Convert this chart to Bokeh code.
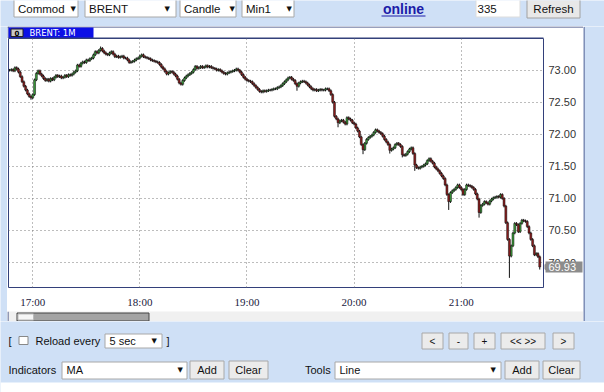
import math
import pandas as pd
from bokeh.plotting import figure
from bokeh.layouts import row, column
from bokeh.models import Range1d, FixedTicker, DatetimeTickFormatter
from bokeh.core.properties import value
from bokeh.embed import file_html
from bokeh.resources import INLINE

# ---------------- data ----------------
SYMBOL = "BRENT"
TIMEFRAME = "1M"
DATE = "2013-06-03"
FIRST_BAR = "16:47"
FIRST_OPEN = 7300  # cents
closes_cents = [
    7300, 7301, 7299, 7304, 7302, 7297, 7290, 7282, 7275, 7269,
    7263, 7259, 7257, 7262, 7285, 7295, 7299, 7294, 7291, 7287,
    7284, 7286, 7283, 7287, 7285, 7289, 7292, 7290, 7291, 7288,
    7289, 7292, 7290, 7293, 7292, 7294, 7297, 7299, 7308, 7306,
    7311, 7313, 7312, 7316, 7315, 7318, 7319, 7324, 7329, 7327,
    7331, 7334, 7330, 7327, 7325, 7324, 7327, 7329, 7325, 7321,
    7322, 7320, 7321, 7322, 7319, 7319, 7316, 7312, 7313, 7314,
    7316, 7318, 7319, 7322, 7324, 7321, 7320, 7319, 7318, 7316,
    7315, 7314, 7313, 7312, 7309, 7305, 7302, 7298, 7294, 7296,
    7298, 7297, 7294, 7291, 7286, 7280, 7278, 7284, 7288, 7291,
    7293, 7295, 7297, 7301, 7306, 7303, 7304, 7306, 7304, 7305,
    7307, 7305, 7306, 7304, 7303, 7302, 7300, 7301, 7299, 7297,
    7295, 7294, 7296, 7297, 7298, 7299, 7300, 7302, 7300, 7297,
    7293, 7289, 7286, 7284, 7283, 7282, 7279, 7276, 7273, 7270,
    7267, 7266, 7268, 7267, 7268, 7269, 7269, 7270, 7271, 7271,
    7273, 7274, 7276, 7279, 7282, 7285, 7288, 7289, 7286, 7284,
    7279, 7275, 7280, 7282, 7283, 7282, 7280, 7277, 7274, 7271,
    7269, 7270, 7268, 7269, 7270, 7269, 7269, 7271, 7271, 7268,
    7262, 7250, 7228, 7224, 7218, 7221, 7222, 7219, 7216, 7226,
    7224, 7222, 7218, 7216, 7210, 7205, 7196, 7184, 7176, 7186,
    7192, 7195, 7197, 7199, 7203, 7207, 7205, 7203, 7201, 7197,
    7192, 7188, 7184, 7175, 7177, 7179, 7184, 7186, 7184, 7181,
    7168, 7167, 7169, 7173, 7177, 7179, 7170, 7152, 7148, 7147,
    7149, 7150, 7152, 7154, 7159, 7162, 7158, 7155, 7149, 7146,
    7143, 7139, 7135, 7131, 7121, 7106, 7095, 7109, 7112, 7114,
    7117, 7121, 7117, 7114, 7106, 7114, 7121, 7120, 7119, 7117,
    7114, 7107, 7099, 7078, 7089, 7091, 7095, 7093, 7091, 7096,
    7099, 7101, 7102, 7103, 7102, 7106, 7100, 7088, 7062, 7036,
    7010, 7026, 7046, 7061, 7059, 7048, 7061, 7066, 7065, 7064,
    7056, 7046, 7036, 7026, 7012, 7014, 7009, 6993,
]
low_overrides = {12: 7254, 14: 7260, 161: 7268, 184: 7211, 198: 7169, 213: 7170,
                 220: 7164, 227: 7143, 246: 7082, 263: 7070, 280: 6976, 297: 6989}
high_overrides = {38: 7310, 51: 7337}
WICK = 2  # cents beyond body when not read separately

price_ticks = [70.0, 70.5, 71.0, 71.5, 72.0, 72.5, 73.0]
hour_ticks = ["17:00", "18:00", "19:00", "20:00", "21:00"]
view_start, view_end = "16:46:24", "21:46:06"
price_low, price_high = 69.61, 73.495

# ---------------- build OHLC ----------------
opens_c = [FIRST_OPEN] + closes_cents[:-1]
highs_c, lows_c = [], []
for i, (o, c) in enumerate(zip(opens_c, closes_cents)):
    highs_c.append(high_overrides.get(i, max(o, c) + WICK))
    lows_c.append(low_overrides.get(i, min(o, c) - WICK))
times = pd.date_range(f"{DATE} {FIRST_BAR}", periods=len(closes_cents), freq="min")
df = pd.DataFrame({
    "t": times,
    "open": [v / 100 for v in opens_c],
    "close": [v / 100 for v in closes_cents],
    "high": [v / 100 for v in highs_c],
    "low": [v / 100 for v in lows_c],
})
df["top"] = df[["open", "close"]].max(axis=1)
df["bottom"] = df[["open", "close"]].min(axis=1)
up = df[df.close > df.open]
down = df[df.close <= df.open]

BG = "#cfe0f6"
NAVY = "#33407a"
GREEN = "#3a9a3a"
RED = "#8a1c1c"


def canvas(w, h, x0, x1, y0, y1, bg):
    f = figure(width=w, height=h, x_range=Range1d(x0, x1), y_range=Range1d(y1, y0),
               output_backend="svg", toolbar_location=None, x_axis_location=None,
               y_axis_location=None, min_border=0, outline_line_color=None,
               background_fill_color=bg, border_fill_color=bg)
    f.grid.visible = False
    return f


def box(f, l, r, t, b, fill, line="#a8a8a8"):
    f.quad(left=[l], right=[r], top=[t], bottom=[b], fill_color=fill, line_color=line, line_width=1)


def txt(f, x, y, s, size="11px", color="#111111", align="left", font="Liberation Sans", style="normal"):
    f.text(x=[x], y=[y], text=[s], text_font=value(font), text_font_size=size, text_color=color,
           text_align=align, text_baseline="middle", text_font_style=style)


def hline(f, x0, x1, y, color=NAVY, w=1):
    f.segment(x0=[x0], y0=[y], x1=[x1], y1=[y], line_color=color, line_width=w)


def vline(f, x, y0, y1, color=NAVY, w=1):
    f.segment(x0=[x], y0=[y0], x1=[x], y1=[y1], line_color=color, line_width=w)


# ---------------- top controls ----------------
top = canvas(604, 26, 0, 604, 0, 26, BG)
for l, r, label, ax in [(13.5, 77.5, "Commod", 70), (84.5, 175.5, "BRENT", 164),
                        (179.5, 235.5, "Candle", 229), (241.5, 293.5, "Min1", 286)]:
    box(top, l, r, -1, 16.5, "white")
    txt(top, l + 4, 8, label, size="11.5px")
    txt(top, ax, 8, "▼", size="7px", font="DejaVu Sans")
txt(top, 403, 8, "online", size="14px", color="#1c1ca8", align="center", style="bold")
hline(top, 381, 425, 15.5, color="#1c1ca8")
box(top, 475.5, 519.5, -1, 16.5, "white", line="#dddddd")
txt(top, 477, 8, "335", size="11.5px")
box(top, 526.5, 579.5, -1, 17.5, "#e8e8e8", line="#a0a0a0")
txt(top, 553, 8, "Refresh", size="11.5px", align="center")

# ---------------- panel pieces ----------------
left = canvas(7, 295, 0, 7, 26, 321, BG)
right = canvas(21, 295, 583, 604, 26, 321, BG)
vline(right, 583.5, 26.5, 321)

tab = canvas(576, 12, 7, 583, 26, 38, "white")
hline(tab, 7, 583, 26.5)
vline(tab, 7.5, 26, 38)
box(tab, 8, 93, 27, 37.5, "#0c10e6", line=None)
box(tab, 10.5, 22.5, 28.5, 36, "#c8c8c8", line="#222222")
txt(tab, 14, 32.3, "0", size="7px", color="black", font="DejaVu Sans", style="bold")
txt(tab, 29, 32.3, f"{SYMBOL}: {TIMEFRAME}", size="8.5px", color="white", font="DejaVu Sans")
hline(tab, 8, 543, 37.5)

# ---------------- chart ----------------
x_start = pd.Timestamp(f"{DATE} {view_start}")
x_end = pd.Timestamp(f"{DATE} {view_end}")
y_rng = Range1d(price_low, price_high)
p = figure(width=537, height=272, x_axis_type="datetime",
           x_range=Range1d(x_start, x_end), y_range=y_rng,
           y_axis_location=None, output_backend="svg", toolbar_location=None,
           min_border_left=1, min_border_right=1, min_border_top=0, min_border_bottom=13,
           background_fill_color="white", border_fill_color="white",
           outline_line_color=NAVY, outline_line_width=1)

hour_ms = [pd.Timestamp(f"{DATE} {h}").value // 10**6 for h in hour_ticks]
fmt = "%H:%M"
p.xaxis.ticker = FixedTicker(ticks=hour_ms)
p.xaxis.formatter = DatetimeTickFormatter(minutes=fmt, hourmin=fmt, hours=fmt, days=fmt,
                                          minsec=fmt, seconds=fmt)
p.xgrid.ticker = FixedTicker(ticks=hour_ms)
p.ygrid.ticker = FixedTicker(ticks=price_ticks)
ax = p.xaxis[0]
ax.axis_line_color = None
ax.major_tick_line_color = None
ax.minor_tick_line_color = None
ax.major_label_text_font = "Liberation Serif"
ax.major_label_text_font_size = "11px"
ax.major_label_text_color = "#1a1a40"
ax.major_label_standoff = 2
p.grid.grid_line_dash = "1 3"
p.grid.grid_line_color = "#7a7a7a"

p.segment(x0="t", y0="low", x1="t", y1="high", source=df, line_color="#111111", line_width=1)
w = 66000
p.vbar(x="t", width=w, top="top", bottom="bottom", source=up, fill_color=GREEN,
       line_color="#111111", line_width=0.5)
p.vbar(x="t", width=w, top="top", bottom="bottom", source=down, fill_color=RED,
       line_color="#111111", line_width=0.5)

# ---------------- price scale (shares the chart's y scale) ----------------
scale = figure(width=39, height=272, x_range=Range1d(544, 583), y_range=y_rng,
               output_backend="svg", toolbar_location=None, x_axis_location=None,
               y_axis_location=None, min_border_left=0, min_border_right=0,
               min_border_top=0, min_border_bottom=13, outline_line_color=None,
               background_fill_color="white", border_fill_color="white")
scale.grid.visible = False
scale.text(x=[548] * len(price_ticks), y=price_ticks, text=[f"{v:.2f}" for v in price_ticks],
           text_font=value("Liberation Sans"), text_font_size="11px", text_color="#333333",
           text_baseline="middle", text_align="left")
last = df.close.iloc[-1]
scale.rect(x=[563.5], y=[last], width=[37], height=[11], height_units="screen",
           fill_color="#8c8c8c", line_color=None)
scale.scatter(x=[545], y=[last], marker="triangle", size=9, angle=math.pi / 2,
              fill_color="#8c8c8c", line_color=None)
scale.text(x=[548], y=[last], text=[f"{last:.2f}"], text_font=value("Liberation Sans"),
           text_font_size="11px", text_color="white", text_baseline="middle", text_align="left")

# ---------------- scrollbar strip ----------------
scroll = canvas(576, 11, 7, 583, 310, 321, "#f0f0f0")
vline(scroll, 7.5, 310, 321)
hline(scroll, 7, 583, 320.5)
box(scroll, 16.5, 148.5, 311.5, 319.5, "#a4a4a4", line="#444444")
box(scroll, 17.5, 33, 312.5, 318.5, "#f6f6f6", line="#bbbbbb")

# ---------------- bottom controls ----------------
bottom = canvas(604, 71, 0, 604, 321, 392, BG)
box(bottom, 0, 604, 382, 392, "white", line=None)
txt(bottom, 8, 340, "[")
box(bottom, 18.5, 27.5, 336, 344, "white", line="#888888")
txt(bottom, 35, 340, "Reload every")
box(bottom, 104.5, 161.5, 333.5, 347.5, "white")
txt(bottom, 109, 340, "5 sec")
txt(bottom, 151, 340, "▼", size="7px", font="DejaVu Sans")
txt(bottom, 166, 340, "]")
for l, r, label in [(421.5, 442.5, "<"), (448.5, 467.5, "-"), (473.5, 494.5, "+"),
                    (500.5, 544.5, "<< >>"), (552.5, 573.5, ">")]:
    box(bottom, l, r, 332.5, 348.5, "#ebebeb")
    txt(bottom, (l + r) / 2, 340.5, label, size="10px", align="center")
txt(bottom, 8, 369.5, "Indicators")
box(bottom, 61.5, 186.5, 361.5, 378.5, "white")
txt(bottom, 66, 369.5, "MA")
txt(bottom, 177, 369.5, "▼", size="7px", font="DejaVu Sans")
txt(bottom, 304.5, 369.5, "Tools")
box(bottom, 334.5, 500.5, 361.5, 378.5, "white")
txt(bottom, 339, 369.5, "Line")
txt(bottom, 490, 369.5, "▼", size="7px", font="DejaVu Sans")
for l, r, label in [(189.5, 223.5, "Add"), (228.5, 267.5, "Clear"),
                    (504.5, 538.5, "Add"), (542.5, 579.5, "Clear")]:
    box(bottom, l, r, 360.5, 378.5, "#ebebeb")
    txt(bottom, (l + r) / 2, 369.5, label, align="center")

layout = column(top, row(left, column(tab, row(p, scale), scroll), right), bottom)
open("out.html", "w").write(file_html(layout, INLINE))
